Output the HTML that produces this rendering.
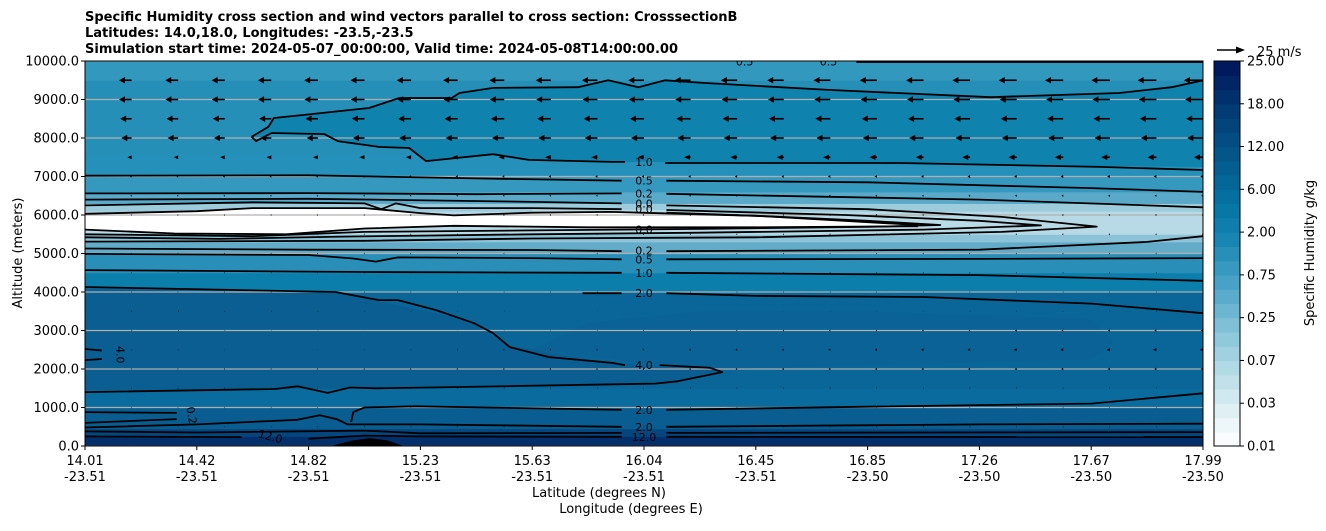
<!DOCTYPE html>
<html><head><meta charset="utf-8"><style>
html,body{margin:0;padding:0;background:#fff;}
body{width:1326px;height:526px;overflow:hidden;font-family:"Liberation Sans","DejaVu Sans",sans-serif;}
svg text{font-family:"DejaVu Sans","Liberation Sans",sans-serif;}
</style></head><body>
<svg id="chart" width="1326" height="526" viewBox="0 0 1326 526" xmlns="http://www.w3.org/2000/svg">
<g font-weight="bold" font-size="13" fill="#000">
<text x="85" y="21">Specific Humidity cross section and wind vectors parallel to cross section: CrosssectionB</text>
<text x="85" y="37">Latitudes: 14.0,18.0, Longitudes: -23.5,-23.5</text>
<text x="85" y="53">Simulation start time: 2024-05-07_00:00:00, Valid time: 2024-05-08T14:00:00.00</text>
</g>
<defs><clipPath id="pc"><rect x="85" y="61" width="1118" height="385"/></clipPath></defs>
<g id="plot" clip-path="url(#pc)"></g>
<g id="axes"></g>
<g id="cbar"></g>
</svg>
<script>
// ---- data ----
const xLats = ["14.01","14.42","14.82","15.23","15.63","16.04","16.45","16.85","17.26","17.67","17.99"];
const xLons = ["-23.51","-23.51","-23.51","-23.51","-23.51","-23.51","-23.51","-23.50","-23.50","-23.50","-23.50"];
const xTickFrac = [0,0.1,0.2,0.3,0.4,0.5,0.6,0.7,0.8,0.9,1.0];
const yTicks = [0,1000,2000,3000,4000,5000,6000,7000,8000,9000,10000];
// humidity fill bands
const bandBottoms = [0,250,450,1000,1500,4000,4500,5000,5300,5500,6100,6300,6600,7000,7600,9500];
const bandTops    = [250,450,1000,1500,4000,4500,5000,5300,5500,6100,6300,6600,7000,7600,9500,10000];
const bandColors  = ["#032f6c","#05467e","#0a5d90","#0a6c9e","#0a6699","#0b7eab","#2a8fb8","#62acca","#8cc3d8","#b8dae6","#9ccbdc","#5aa9c9","#3598be","#2590b9","#268fb8","#3398bd"];
// wind vectors
const windRows = [500,1000,1500,2000,2500,3000,3500,4000,4500,5000,5500,6000,6500,7000,7500,8000,8500,9000,9500];
const windU    = [-0.5,-0.5,-0.5,-0.5,0.6,0.8,0.6,-0.5,-0.5,-0.6,-0.6,-0.8,-1,-1.5,-3.5,-9,-10,-11,-11];
const windUright=[-0.5,-0.5,-0.5,-2,-3,-2,-0.5,-0.5,-0.6,-0.8,-1,-1.2,-1.5,-2.5,-8,-14,-15,-16,-17];
const nCols = 25;
// contour lines: [fraction along section, altitude m]
const cUpper = [[0.149,8030],[0.164,8290],[0.169,8520],[0.196,8600],[0.254,8780],[0.281,9040],[0.328,9040],[0.335,9170],[0.365,9300],[0.441,9320],[0.468,9500],[0.495,9320],[0.519,9500],[0.553,9430],[0.665,9250],[0.81,9060],[0.925,9170],[0.972,9320],[1,9500]];
const cUpperLow = [[0.149,8030],[0.153,7920],[0.167,8130],[0.214,8100],[0.226,7920],[0.263,7770],[0.29,7740],[0.305,7400],[0.365,7580],[0.397,7430],[0.471,7380],[0.483,7380]];
const c10a = [[0.519,7350],[0.729,7350],[0.908,7250],[1,7170]];
const cTop = [[0.69,9975],[1,9975]];
const c05a = [[0,7020],[0.2,7030],[0.35,6950],[0.48,6890]];
const c05b = [[0.52,6890],[0.7,6850],[0.9,6700],[1,6600]];
const c02a = [[0,6560],[0.2,6570],[0.35,6540],[0.48,6560]];
const c02b = [[0.52,6550],[0.8,6400],[1,6200]];
const c00a = [[0,6400],[0.2,6420],[0.38,6350],[0.48,6300]];
const c00b = [[0,6250],[0.15,6330],[0.25,6300],[0.265,6150],[0.278,6300],[0.3,6180],[0.4,6180],[0.48,6150]];
const cNest1 = [[0.52,6250],[0.7,6150],[0.82,5950],[0.905,5700],[0.82,5560],[0.6,5420],[0.4,5390],[0.25,5330],[0,5310]];
const cNest2 = [[0.52,6130],[0.68,6000],[0.8,5850],[0.855,5730],[0.75,5620],[0.55,5540],[0.4,5500],[0.23,5440],[0.12,5380],[0,5420]];
const cNest3 = [[0.52,6060],[0.6,5980],[0.7,5850],[0.765,5740],[0.7,5690],[0.55,5640],[0.4,5600],[0.25,5560],[0.15,5450],[0,5500]];
const cWhiteTop = [[0,6030],[0.1,6100],[0.15,6180],[0.25,6180],[0.3,6050],[0.33,5990],[0.4,6060],[0.47,6080],[0.6,5980],[0.745,5740]];
const cWhiteBot = [[0.745,5710],[0.6,5680],[0.45,5680],[0.33,5720],[0.25,5650],[0.18,5500],[0.08,5520],[0,5620]];
const c02low = [[0,5130],[0.2,5100],[0.4,5090],[0.48,5060]];
const c02lowR = [[0.52,5060],[0.8,5100],[0.95,5300],[1,5450]];
const c05low = [[0,4990],[0.2,4960],[0.24,4870],[0.26,4790],[0.28,4900],[0.4,4880],[0.48,4850]];
const c05lowR = [[0.52,4850],[0.8,4860],[1,4880]];
const c10low = [[0,4570],[0.25,4520],[0.35,4510],[0.48,4500]];
const c10lowR = [[0.52,4500],[0.8,4440],[1,4290]];
const c20a = [[0.445,3970],[0.48,3970]];
const c20b = [[0.52,3970],[0.6,3900],[0.75,3870],[0.9,3700],[1,3450]];
const c40 = [[0,4130],[0.224,4000],[0.263,3790],[0.28,3790],[0.314,3530],[0.348,3190],[0.365,2930],[0.38,2570],[0.415,2310],[0.471,2160],[0.483,2100]];
const c40b = [[0.514,2100],[0.559,2030],[0.57,1920],[0.53,1680],[0.51,1620],[0.33,1530],[0.26,1500],[0.237,1520],[0.217,1380],[0.19,1550],[0.17,1480],[0,1400]];
const c4left = [[0,2520],[0.015,2480]];
const c4left2 = [[0,2230],[0.015,2260]];
const c20low = [[0.238,620],[0.24,880],[0.25,1000],[0.295,1030],[0.48,940]];
const c20lowR = [[0.52,940],[0.7,1020],[0.9,1100],[1,1370]];
const c02left = [[0,880],[0.082,860]];
const c02left2 = [[0,600],[0.082,700]];
const c20m = [[0,480],[0.1,560],[0.19,680],[0.21,800],[0.225,700],[0.235,560],[0.3,560],[0.48,500]];
const c20mR = [[0.52,500],[0.8,560],[1,580]];
const c60 = [[0,380],[0.1,350],[0.25,400],[0.3,330],[0.48,340]];
const c60R = [[0.52,340],[1,360]];
const c120 = [[0,250],[0.14,230]];
const c120b = [[0.2,190],[0.25,270],[0.3,250],[0.48,240]];
const c120R = [[0.52,240],[1,230]];
const mound = [[0.22,0],[0.24,150],[0.255,200],[0.27,150],[0.285,0]];
const tongue = [[0,1450],[0,4100],[0.225,3980],[0.34,3300],[0.38,2600],[0.47,2160],[0.56,2030],[0.57,1920],[0.52,1640],[0.3,1530],[0.2,1480]];
const labelText = ["1.0","0.5","0.2","0.0","0.0","0.0","0.2","0.5","1.0","2.0","4.0","2.0","2.0","12.0","0.5","0.5"];
const labelFrac = [0.5,0.5,0.5,0.5,0.5,0.5,0.5,0.5,0.5,0.5,0.5,0.5,0.5,0.5,0.59,0.665];
const labelAlt  = [7380,6890,6560,6300,6150,5620,5080,4850,4500,3970,2100,940,500,230,9990,9990];

// ---- scales ----
const X0=85,X1=1203,Y0=446,Y1=61;
const xs=f=>X0+f*(X1-X0);
const ys=z=>Y0-z*(Y0-Y1)/10000;
const NS="http://www.w3.org/2000/svg";
function mk(tag,attrs,parent){const e=document.createElementNS(NS,tag);for(const k in attrs)e.setAttribute(k,attrs[k]);parent.appendChild(e);return e;}
const plot=document.getElementById('plot'), axes=document.getElementById('axes'), cbar=document.getElementById('cbar');
const pts=a=>a.map(p=>xs(p[0]).toFixed(1)+','+ys(p[1]).toFixed(1)).join(' ');

for(let i=0;i<bandBottoms.length;i++){
  const r=mk('rect',{x:X0,y:ys(bandTops[i]),width:X1-X0,height:ys(bandBottoms[i])-ys(bandTops[i])+0.5,fill:bandColors[i]},plot);
  
  
}
const loopPoly=mk('polygon',{points:pts(cUpper.concat([[1,7250],[0.5,7380]]).concat(cUpperLow.slice().reverse())),fill:'#0f82ae'},plot);


const tg=mk('polygon',{points:pts(tongue),fill:'#0a5e92'},plot);


const tg2=mk('polygon',{points:pts([[0.57,2000],[0.9,2250],[0.92,2700],[0.9,3300],[0.7,3500],[0.55,3500],[0.45,3200],[0.4,2500],[0.5,2150]]),fill:'#0a6296'},plot);


const we=mk('polygon',{points:pts(cNest2.slice(0,5).concat([[0.4,5520],[0.4,6150]])),fill:'#b9dbe7'},plot);


const wp=mk('polygon',{points:pts(cWhiteTop.concat(cWhiteBot)),fill:'#ffffff'},plot);


for(const t of yTicks){
  const g=mk('line',{x1:X0,x2:X1,y1:ys(t),y2:ys(t),stroke:'#b0b0b0','stroke-width':1.2},plot);
  
  
}
const lines=[cUpper,cUpperLow,c10a,cTop,c05a,c05b,c02a,c02b,c00a,c00b,cNest1,cNest2,cNest3,cWhiteTop,cWhiteBot,c02low,c02lowR,c05low,c05lowR,c10low,c10lowR,c20a,c20b,c40,c40b,c4left,c4left2,c20low,c20lowR,c02left,c02left2,c20m,c20mR,c60,c60R,c120,c120b,c120R];
for(const l of lines){
  const p=mk('polyline',{points:pts(l),fill:'none',stroke:'#000','stroke-width':1.8,'stroke-linejoin':'round'},plot);
  
  
}
const m=mk('polygon',{points:pts(mound),fill:'#000'},plot);


for(let i=0;i<labelText.length;i++){
  const t=mk('text',{x:xs(labelFrac[i]),y:ys(labelAlt[i])+4,'font-size':11,'text-anchor':'middle',fill:'#000'},plot);
  t.textContent=labelText[i];
  
  
}
const r1=mk('text',{x:0,y:0,'font-size':11,transform:`translate(${xs(0.028)},${ys(2370)}) rotate(90)`,'text-anchor':'middle'},plot);r1.textContent='4.0';
const r2=mk('text',{x:0,y:0,'font-size':11,transform:`translate(${xs(0.092)},${ys(780)}) rotate(80)`,'text-anchor':'middle'},plot);r2.textContent='0.2';
const r3=mk('text',{x:0,y:0,'font-size':11,transform:`translate(${xs(0.165)},${ys(150)}) rotate(15)`,'text-anchor':'middle'},plot);r3.textContent='12.0';

const scale=28/25;
for(let r=0;r<windRows.length;r++){
  for(let c=0;c<nCols;c++){
    const f=c/(nCols-1);
    const u=windU[r]+(windUright[r]-windU[r])*f;
    const L=u*scale, x=xs(f), y=ys(windRows[r]);
    const al=Math.abs(L), dir=Math.sign(L)||-1;
    const hl=Math.min(al,6), hw=Math.min(3.2,0.8+al*0.25);
    const g=mk('g',{},plot);
    
    
    if(al>hl) mk('line',{x1:x,y1:y,x2:x+L-dir*hl*0.8,y2:y,stroke:'#000','stroke-width':1.6},g);
    mk('polygon',{points:`${x+L},${y} ${x+L-dir*hl},${y-hw} ${x+L-dir*hl},${y+hw}`,fill:'#000'},g);
  }
}

const fr=mk('rect',{x:X0,y:Y1,width:X1-X0,height:Y0-Y1,fill:'none',stroke:'#000','stroke-width':1},axes);


for(const t of yTicks){
  mk('line',{x1:X0-4,x2:X0,y1:ys(t),y2:ys(t),stroke:'#000'},axes);
  const tx=mk('text',{x:X0-6,y:ys(t)+4.5,'font-size':13,'text-anchor':'end'},axes);
  tx.textContent=t.toFixed(1);
  
  
}
for(let i=0;i<xLats.length;i++){
  const x=xs(xTickFrac[i]);
  mk('line',{x1:x,x2:x,y1:Y0,y2:Y0+4,stroke:'#000'},axes);
  const a=mk('text',{x:x,y:465,'font-size':13,'text-anchor':'middle'},axes);a.textContent=xLats[i];
  
  
  const b=mk('text',{x:x,y:481,'font-size':13,'text-anchor':'middle'},axes);b.textContent=xLons[i];
  
  
}
const xt1=mk('text',{x:599,y:497,'font-size':13,'text-anchor':'middle'},axes);xt1.textContent='Latitude (degrees N)';


const xt2=mk('text',{x:631,y:513,'font-size':13,'text-anchor':'middle'},axes);xt2.textContent='Longitude (degrees E)';


const yt=mk('text',{x:0,y:0,'font-size':13,'text-anchor':'middle',transform:'translate(22,253) rotate(-90)'},axes);yt.textContent='Altitude (meters)';



const qk=mk('g',{},axes);


mk('line',{x1:1217,y1:50,x2:1238,y2:50,stroke:'#000','stroke-width':1.6},qk);
mk('polygon',{points:'1245,50 1236,46.5 1236,53.5',fill:'#000'},qk);
const qt=mk('text',{x:1257,y:56,'font-size':13},qk);qt.textContent='25 m/s';

const cbTicks=["0.01","0.03","0.07","0.25","0.75","2.00","6.00","12.00","18.00","25.00"];
const anchors=[[0,[255,255,255]],[0.06,[236,245,248]],[0.2,[180,218,230]],[0.33,[120,188,213]],[0.45,[60,155,195]],[0.55,[20,130,175]],[0.62,[5,118,165]],[0.72,[5,95,145]],[0.85,[3,65,120]],[1,[0,20,90]]];
function col(t){for(let i=1;i<anchors.length;i++){if(t<=anchors[i][0]){const a=anchors[i-1],b=anchors[i];const k=(t-a[0])/(b[0]-a[0]);return 'rgb('+a[1].map((v,j)=>Math.round(v+(b[1][j]-v)*k)).join(',')+')';}}return 'rgb(0,20,90)';}
const NB=27,CX=1214,CW=26;
for(let i=0;i<NB;i++){
  const yb=Y0-(i+1)*(Y0-Y1)/NB;
  const r=mk('rect',{x:CX,y:yb,width:CW,height:(Y0-Y1)/NB+0.6,fill:col((i+0.5)/NB)},cbar);
  
  
}
mk('rect',{x:CX,y:Y1,width:CW,height:Y0-Y1,fill:'none',stroke:'#000'},cbar);
for(let i=0;i<cbTicks.length;i++){
  const y=Y0-i*(Y0-Y1)/(cbTicks.length-1);
  mk('line',{x1:CX+CW,x2:CX+CW+4,y1:y,y2:y,stroke:'#000'},cbar);
  const t=mk('text',{x:CX+CW+7,y:y+4.5,'font-size':13},cbar);t.textContent=cbTicks[i];
  
  
}
const ct=mk('text',{x:0,y:0,'font-size':13,'text-anchor':'middle',transform:'translate(1314,253) rotate(-90)'},cbar);ct.textContent='Specific Humidity g/kg';


</script>
</body></html>
